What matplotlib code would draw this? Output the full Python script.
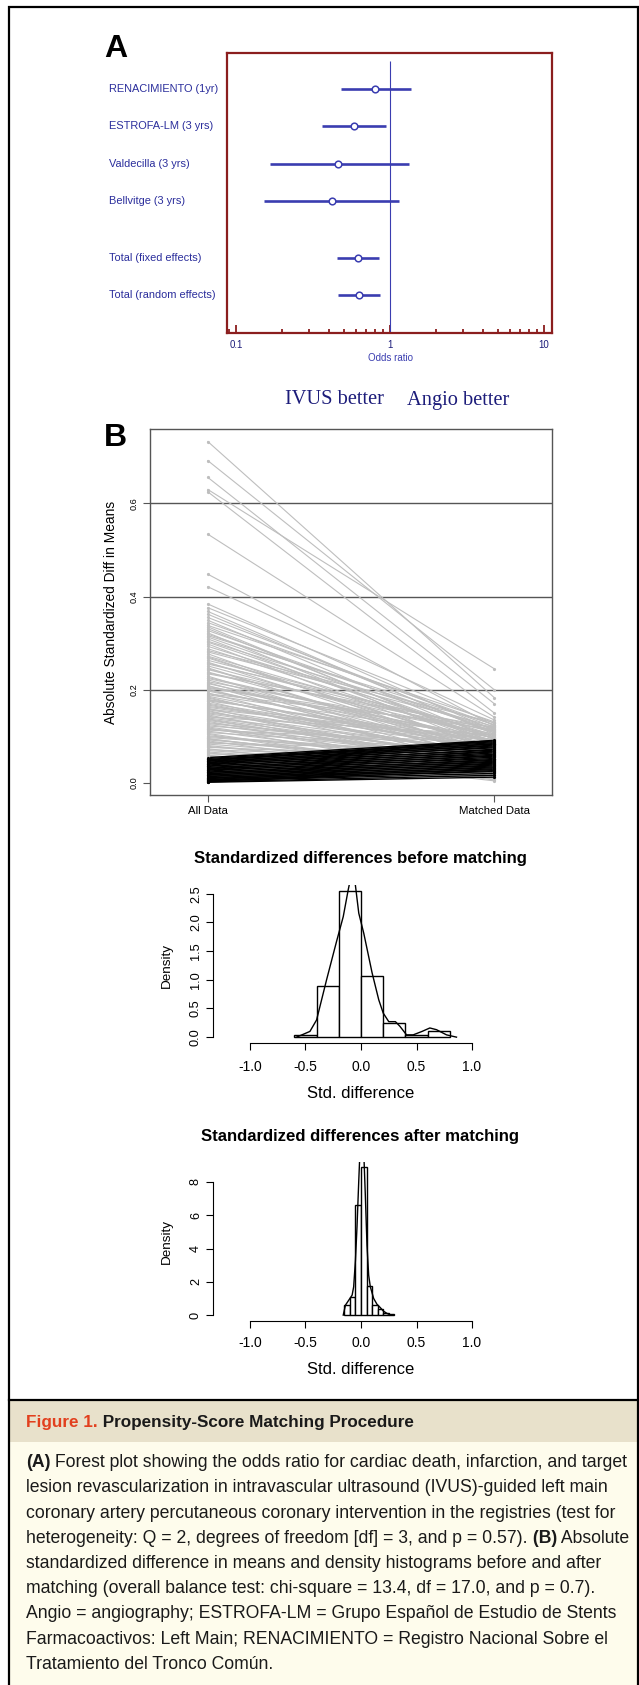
import matplotlib
matplotlib.use("Agg")
import matplotlib.pyplot as plt
from matplotlib.ticker import LogLocator, NullFormatter
from matplotlib.transforms import blended_transform_factory
from matplotlib.patches import Rectangle

W, H, DPI = 639, 1685, 100

plt.rcParams["font.family"] = ["Liberation Sans", "DejaVu Sans"]

# ---------------------------------------------------------------------------
# data
# ---------------------------------------------------------------------------
# A) forest plot
studies = ["RENACIMIENTO (1yr)", "ESTROFA-LM (3 yrs)", "Valdecilla (3 yrs)",
           "Bellvitge (3 yrs)", "Total (fixed effects)", "Total (random effects)"]
study_rows = [1, 2, 3, 4, 5.5, 6.5]
odds_ratio = [0.80, 0.58, 0.46, 0.42, 0.62, 0.63]
ci_low = [0.48, 0.36, 0.167, 0.151, 0.45, 0.46]
ci_high = [1.36, 0.94, 1.32, 1.15, 0.85, 0.86]

# B) absolute standardized difference in means, per covariate
std_diff_all = [
    0.733, 0.692, 0.656, 0.630, 0.625, 0.534, 0.448, 0.421, 0.384,
    0.376, 0.368, 0.355, 0.349, 0.338, 0.331, 0.327, 0.322, 0.316, 0.313,
    0.309, 0.304, 0.298, 0.293, 0.288, 0.281, 0.277, 0.272, 0.268, 0.263,
    0.259, 0.255, 0.251, 0.247, 0.243, 0.238, 0.234, 0.229, 0.226, 0.221,
    0.217, 0.213, 0.209, 0.205, 0.201, 0.197, 0.193, 0.189, 0.186, 0.182,
    0.178, 0.175, 0.171, 0.167, 0.164, 0.160, 0.157, 0.153, 0.150, 0.146,
    0.143, 0.139, 0.136, 0.132, 0.129, 0.125, 0.122, 0.118, 0.115, 0.111,
    0.108, 0.104, 0.101, 0.097, 0.094, 0.090, 0.087, 0.083, 0.080, 0.076,
    0.073, 0.069, 0.066, 0.062, 0.059, 0.055,
    0.362, 0.344, 0.335, 0.319, 0.302, 0.284, 0.270, 0.257, 0.245, 0.236,
    0.224, 0.215, 0.207, 0.199, 0.191, 0.184, 0.176, 0.169, 0.162, 0.155,
    0.148, 0.141, 0.134, 0.127, 0.120, 0.113, 0.106, 0.099, 0.092, 0.085,
    0.078, 0.071, 0.064, 0.057, 0.203, 0.179, 0.158, 0.137, 0.116, 0.095,
    0.054, 0.052, 0.050, 0.049, 0.047, 0.046, 0.044, 0.043, 0.041, 0.040,
    0.038, 0.036, 0.035, 0.033, 0.031, 0.030, 0.028, 0.027, 0.025, 0.023,
    0.022, 0.020, 0.019, 0.017, 0.016, 0.014, 0.013, 0.011, 0.010, 0.009,
    0.007, 0.006, 0.005, 0.004, 0.003, 0.002, 0.001,
]
std_diff_matched = [
    0.183, 0.200, 0.170, 0.245, 0.150, 0.141, 0.122, 0.135, 0.112,
    0.128, 0.104, 0.119, 0.093, 0.131, 0.086, 0.110, 0.072, 0.125, 0.098,
    0.081, 0.115, 0.067, 0.102, 0.089, 0.121, 0.058, 0.095, 0.076, 0.108,
    0.063, 0.113, 0.084, 0.051, 0.099, 0.070, 0.118, 0.046, 0.088, 0.061,
    0.105, 0.079, 0.040, 0.092, 0.055, 0.074, 0.035, 0.097, 0.066, 0.048,
    0.083, 0.030, 0.071, 0.057, 0.089, 0.026, 0.064, 0.043, 0.078, 0.021,
    0.053, 0.069, 0.038, 0.017, 0.060, 0.045, 0.074, 0.013, 0.050, 0.033,
    0.067, 0.009, 0.042, 0.056, 0.028, 0.006, 0.047, 0.036, 0.019, 0.052,
    0.004, 0.031, 0.024, 0.041, 0.011, 0.015,
    0.107, 0.124, 0.082, 0.116, 0.094, 0.129, 0.073, 0.101, 0.060, 0.111,
    0.087, 0.049, 0.097, 0.068, 0.120, 0.039, 0.091, 0.057, 0.080, 0.025,
    0.065, 0.103, 0.044, 0.071, 0.032, 0.086, 0.014, 0.059, 0.037, 0.070,
    0.022, 0.048, 0.008, 0.029, 0.114, 0.077, 0.093, 0.054, 0.062, 0.018,
    0.091, 0.088, 0.086, 0.083, 0.090, 0.079, 0.084, 0.075, 0.081, 0.070,
    0.077, 0.066, 0.072, 0.061, 0.068, 0.057, 0.064, 0.052, 0.059, 0.048,
    0.055, 0.044, 0.050, 0.040, 0.046, 0.036, 0.042, 0.032, 0.038, 0.028,
    0.034, 0.024, 0.030, 0.020, 0.026, 0.016, 0.012,
]

# density histograms of standardized differences
bins_before = [-0.6, -0.4, -0.2, 0.0, 0.2, 0.4, 0.6, 0.8]
dens_before = [0.035, 0.895, 2.55, 1.07, 0.244, 0.035, 0.11]
kde_before_x = [-0.58, -0.46, -0.40, -0.31, -0.22, -0.16, -0.115, -0.09, -0.06,
                -0.02, 0.025, 0.10, 0.16, 0.20, 0.25, 0.31, 0.35, 0.41, 0.47,
                0.55, 0.62, 0.68, 0.77, 0.86]
kde_before_y = [0.0, 0.10, 0.30, 1.0, 1.67, 2.10, 2.57, 2.80, 2.80,
                2.16, 1.81, 1.12, 0.65, 0.42, 0.27, 0.27, 0.19, 0.04, 0.04,
                0.10, 0.16, 0.13, 0.04, 0.0]

bins_after = [-0.15, -0.10, -0.05, 0.0, 0.05, 0.10, 0.15, 0.20, 0.25, 0.30]
dens_after = [0.6, 1.1, 6.6, 8.9, 1.74, 0.6, 0.35, 0.15, 0.05]
kde_after_x = [-0.16, -0.14, -0.11, -0.08, -0.066, -0.05, -0.036, -0.02, -0.012,
               0.0, 0.015, 0.027, 0.039, 0.054, 0.069, 0.084, 0.114, 0.144,
               0.174, 0.20, 0.234, 0.27]
kde_after_y = [0.0, 0.6, 0.9, 1.2, 1.7, 3.3, 5.3, 8.1, 9.4,
               9.9, 9.9, 9.4, 7.2, 4.2, 2.4, 1.7, 1.0, 0.65,
               0.45, 0.25, 0.10, 0.0]

caption_lines = [
    [("(A)", "bold"), (" Forest plot showing the odds ratio for cardiac death, infarction, and target", "normal")],
    [("lesion revascularization in intravascular ultrasound (IVUS)-guided left main", "normal")],
    [("coronary artery percutaneous coronary intervention in the registries (test for", "normal")],
    [("heterogeneity: Q = 2, degrees of freedom [df] = 3, and p = 0.57).", "normal"),
     (" (B)", "bold"), (" Absolute", "normal")],
    [("standardized difference in means and density histograms before and after", "normal")],
    [("matching (overall balance test: chi-square = 13.4, df = 17.0, and p = 0.7).", "normal")],
    [("Angio = angiography; ESTROFA-LM = Grupo Español de Estudio de Stents", "normal")],
    [("Farmacoactivos: Left Main; RENACIMIENTO = Registro Nacional Sobre el", "normal")],
    [("Tratamiento del Tronco Común.", "normal")],
]

# ---------------------------------------------------------------------------
# colours
# ---------------------------------------------------------------------------
FRAME_RED = "#8B1E1E"
FOREST_BLUE = "#3A3DB0"
LABEL_BLUE = "#2B2E9C"
NAVY = "#1C1C7A"
LINE_GRAY = "#BEBEBE"
AXIS_GRAY = "#555555"
TEXT = "#1A1A1A"

fig = plt.figure(figsize=(W / DPI, H / DPI), dpi=DPI)
bg = fig.add_axes([0, 0, 1, 1])
bg.set_xlim(0, W)
bg.set_ylim(H, 0)
bg.axis("off")


def px_axes(left, top, right, bottom):
    ax = fig.add_axes([left / W, 1 - bottom / H, (right - left) / W, (bottom - top) / H])
    ax.patch.set_alpha(0)
    return ax


# outer frame and caption band
bg.add_patch(Rectangle((9, 1401), 628, 41, facecolor="#E8E1CB", edgecolor="none"))
bg.add_patch(Rectangle((9, 1442), 628, 243, facecolor="#FEFCEC", edgecolor="none"))
bg.plot([9, 9, 637.5, 637.5], [1685, 7, 7, 1685], color="black", lw=1.6, solid_joinstyle="miter")
bg.plot([9, 637.5], [1400, 1400], color="black", lw=1.6)

# ---------------------------------------------------------------------------
# A) forest plot
# ---------------------------------------------------------------------------
bg.text(104, 49, "A", fontsize=23, weight="bold", va="center", ha="left")
axA = px_axes(227, 53, 552, 333)
axA.set_xscale("log")
axA.set_xlim(0.0874, 11.27)
axA.set_ylim(7.5, 0.05)
for sp in axA.spines.values():
    sp.set_color(FRAME_RED)
    sp.set_linewidth(1.6)
axA.set_yticks([])
axA.set_xticks([0.1, 1, 10], labels=["0.1", "1", "10"])
axA.xaxis.set_minor_locator(LogLocator(base=10, subs=range(2, 10)))
axA.xaxis.set_minor_formatter(NullFormatter())
axA.tick_params(axis="x", which="both", direction="in", color=FRAME_RED, width=1.3,
                labelcolor=NAVY, labelsize=7, pad=5)
axA.tick_params(axis="x", which="major", length=6)
axA.tick_params(axis="x", which="minor", length=3)
axA.vlines(1, 0.27, 7.5, color=FOREST_BLUE, lw=0.8)
lab_tf = blended_transform_factory(bg.transData, axA.transData)
for lab, row, o, lo, hi in zip(studies, study_rows, odds_ratio, ci_low, ci_high):
    axA.plot([lo, hi], [row, row], color=FOREST_BLUE, lw=1.9, solid_capstyle="butt")
    axA.plot(o, row, "o", ms=4.8, mfc="white", mec=FOREST_BLUE, mew=1.1)
    axA.text(109, row, lab, transform=lab_tf, fontsize=7.9, color=LABEL_BLUE,
             ha="left", va="center")
bg.text(390, 358, "Odds ratio", fontsize=7, color=FOREST_BLUE, ha="center", va="center")
bg.text(384, 400, "IVUS better", fontsize=14.7, color=NAVY, family="Liberation Serif",
        ha="right", va="center")
bg.text(407, 400, "Angio better", fontsize=14.7, color=NAVY, family="Liberation Serif",
        ha="left", va="center")

# ---------------------------------------------------------------------------
# B) standardized differences, all vs matched data
# ---------------------------------------------------------------------------
bg.text(104, 438, "B", fontsize=23, weight="bold", va="center", ha="left")
axB = px_axes(150, 429, 552, 795)
axB.set_xlim(0.798, 2.202)
axB.set_ylim(-0.0264, 0.760)
for g in (0.2, 0.4, 0.6):
    axB.axhline(g, color=AXIS_GRAY, lw=1.0, zorder=1)
pairs = list(zip(std_diff_all, std_diff_matched))
for worse in (False, True):
    col = "black" if worse else LINE_GRAY
    sel = [(a, m) for a, m in pairs if (m > a) == worse]
    for a, m in sel:
        axB.plot([1, 2], [a, m], color=col, lw=0.8 if not worse else 1.0, zorder=2)
    axB.plot([1] * len(sel), [a for a, _ in sel], "o", color=col, ms=2.3, mew=0, zorder=3)
    axB.plot([2] * len(sel), [m for _, m in sel], "o", color=col, ms=2.3, mew=0, zorder=3)
for sp in axB.spines.values():
    sp.set_color(AXIS_GRAY)
    sp.set_linewidth(1.0)
axB.set_xticks([1, 2], labels=["All Data", "Matched Data"])
axB.set_yticks([0, 0.2, 0.4, 0.6], labels=["0.0", "0.2", "0.4", "0.6"])
axB.tick_params(axis="x", length=5, color=AXIS_GRAY, labelsize=8.2, pad=3)
axB.tick_params(axis="y", length=5, color=AXIS_GRAY, labelsize=6.6, pad=3, labelrotation=90)
for t in axB.get_yticklabels():
    t.set_va("center")
bg.text(111, 612, "Absolute Standardized Diff in Means", rotation=90, fontsize=9.9,
        ha="center", va="center")


# ---------------------------------------------------------------------------
# density histograms
# ---------------------------------------------------------------------------
def density_panel(top, bottom, ylim, yticks, bins, dens, kx, ky, title, title_y,
                  xlab_y, ylab_y, xpad):
    ax = px_axes(213, top, 509, bottom)
    ax.set_xlim(-1.333, 1.333)
    ax.set_ylim(*ylim)
    widths = [b1 - b0 for b0, b1 in zip(bins[:-1], bins[1:])]
    ax.bar(bins[:-1], dens, width=widths, align="edge", facecolor="white",
           edgecolor="black", lw=1.0)
    ax.plot(kx, ky, color="black", lw=1.0)
    ax.spines[["top", "right"]].set_visible(False)
    ax.spines["left"].set_bounds(yticks[0], yticks[-1])
    ax.spines["bottom"].set_bounds(-1, 1)
    ax.set_xticks([-1, -0.5, 0, 0.5, 1], labels=["-1.0", "-0.5", "0.0", "0.5", "1.0"])
    ax.set_yticks(yticks, labels=[str(v) if isinstance(v, int) else f"{v:.1f}" for v in yticks])
    ax.tick_params(axis="x", length=5, labelsize=10, pad=xpad)
    ax.tick_params(axis="y", length=5, labelsize=9.2, pad=3, labelrotation=90)
    for t in ax.get_yticklabels():
        t.set_va("center")
    bg.text(360, title_y, title, fontsize=12.1, weight="bold", ha="center", va="center")
    bg.text(361, xlab_y, "Std. difference", fontsize=12, ha="center", va="center")
    bg.text(167, ylab_y, "Density", rotation=90, fontsize=9.7, ha="center", va="center")
    return ax


density_panel(885, 1043, (-0.102, 2.652), [0.0, 0.5, 1.0, 1.5, 2.0, 2.5],
              bins_before, dens_before, kde_before_x, kde_before_y,
              "Standardized differences before matching", 859, 1093, 965, 7)
density_panel(1162, 1321, (-0.354, 9.2), [0, 2, 4, 6, 8],
              bins_after, dens_after, kde_after_x, kde_after_y,
              "Standardized differences after matching", 1137, 1370, 1241, 6)

# ---------------------------------------------------------------------------
# caption
# ---------------------------------------------------------------------------
CAP_SIZE = 12.7
head = bg.text(26, 1422, "Figure 1.", fontsize=12.3, weight="bold", color="#E2401E",
               ha="left", va="center")
bg.annotate(" Propensity-Score Matching Procedure", xy=(1, 0), xycoords=head,
            fontsize=12.3, weight="bold", color=TEXT, ha="left", va="bottom")

line_y = [1462, 1487, 1513, 1538, 1563, 1588, 1613, 1639, 1664]
for y, segs in zip(line_y, caption_lines):
    prev = None
    for txt, wt in segs:
        if prev is None:
            prev = bg.text(26, y + 5, txt, fontsize=CAP_SIZE, weight=wt, color=TEXT,
                           ha="left", va="baseline")
        else:
            prev = bg.annotate(txt, xy=(1, 0), xycoords=prev, fontsize=CAP_SIZE, weight=wt,
                               color=TEXT, ha="left", va="bottom")

fig.savefig("out.png", dpi=DPI, facecolor="white")
